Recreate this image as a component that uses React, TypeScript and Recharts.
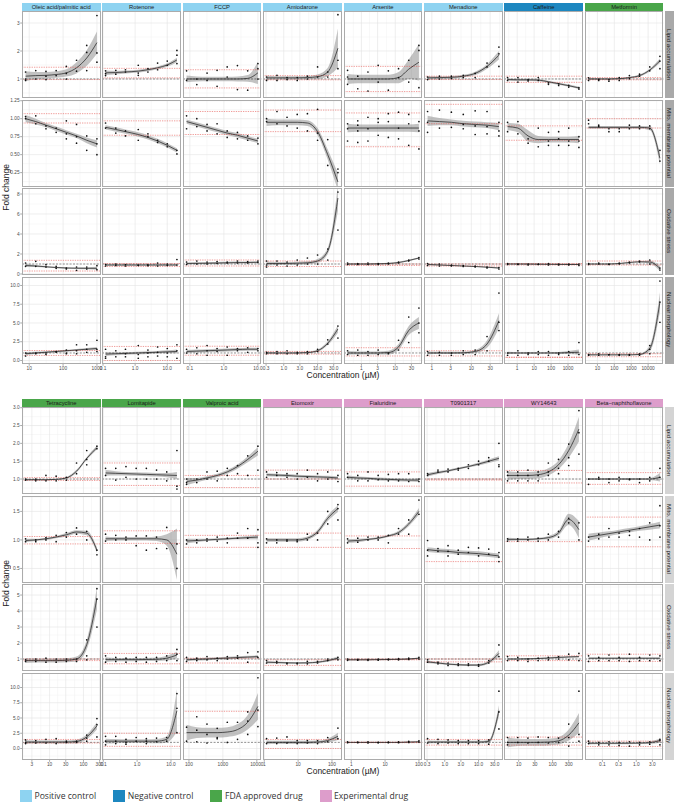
import React from "react";
import {
  ComposedChart,
  Area,
  Line,
  Scatter,
  XAxis,
  YAxis,
  CartesianGrid,
  ReferenceLine,
} from "recharts";

type Panel = { fit: number[]; se: number[]; pts: number[][]; red: number[] };

const readouts = ["Lipid accumulation", "Mito. membrane potential", "Oxidative stress", "Nuclear morphology"];

const topDrugs = ["Oleic acid/palmitic acid", "Rotenone", "FCCP", "Amiodarone", "Arsenite", "Menadione", "Caffeine", "Metformin"];
const topGroups = ["pos", "pos", "pos", "pos", "pos", "pos", "neg", "fda"];
const bottomDrugs = ["Tetracycline", "Lomitapide", "Valproic acid", "Etomoxir", "Fialuridine", "T0901317", "WY14643", "Beta\u2212naphthoflavone"];
const bottomGroups = ["fda", "fda", "fda", "exp", "exp", "exp", "exp", "exp"];

const legendItems = [
  { key: "pos", label: "Positive control" },
  { key: "neg", label: "Negative control" },
  { key: "fda", label: "FDA approved drug" },
  { key: "exp", label: "Experimental drug" },
];

// concentrations (µM) per column
const topConc = [
  [7.8, 15.6, 31.25, 62.5, 125, 250, 500, 1000],
  [0.12, 0.25, 0.5, 1.25, 2.5, 5, 10, 20],
  [0.08, 0.16, 0.32, 0.63, 1.25, 2.5, 5, 10],
  [0.31, 0.63, 1.25, 2.5, 5, 10, 20, 40],
  [0.39, 0.78, 1.56, 3.125, 6.25, 12.5, 25, 50],
  [0.78, 1.56, 3.125, 6.25, 12.5, 25, 50],
  [0.27, 1.1, 4.4, 17.5, 70, 280, 1100, 4400],
  [3, 12, 48, 195, 780, 3100, 12500, 50000],
];
const topXTicks = [[10, 100, 1000], [0.1, 1, 10], [0.1, 1, 10], [0.3, 1, 3, 10, 30], [1, 3, 10, 30], [1, 3, 10, 30], [1, 10, 100, 1000], [10, 100, 1000, 10000]];
const topXLabels = [["10", "100", "1000"], ["0.1", "1.0", "10.0"], ["0.1", "1.0", "10.0"], ["0.3", "1.0", "3.0", "10.0", "30.0"], ["1", "3", "10", "30"], ["1", "3", "10", "30"], ["1", "10", "100", "1000"], ["10", "100", "1000", "10000"]];

const bottomConc = [
  [1.95, 3.9, 7.8, 15.6, 31.25, 62.5, 125, 250],
  [0.117, 0.234, 0.469, 0.938, 1.875, 3.75, 7.5, 15],
  [85, 170, 340, 680, 1350, 2700, 5400, 10800],
  [1.17, 2.34, 4.69, 9.38, 18.75, 37.5, 75, 150],
  [0.78, 1.56, 3.125, 6.25, 12.5, 25, 50, 100],
  [0.31, 0.63, 1.25, 2.5, 5, 10, 20, 40],
  [4.7, 9.4, 18.75, 37.5, 75, 150, 300, 600],
  [0.039, 0.078, 0.156, 0.31, 0.63, 1.25, 2.5, 5],
];
const bottomXTicks = [[3, 10, 30, 100, 300], [0.1, 1, 10], [100, 1000, 10000], [1, 10, 100], [1, 10, 100], [0.3, 1, 3, 10, 30], [10, 30, 100, 300], [0.1, 0.3, 1, 3]];
const bottomXLabels = [["3", "10", "30", "100", "300"], ["0.1", "1.0", "10.0"], ["100", "1000", "10000"], ["1", "10", "100"], ["1", "10", "100"], ["0.3", "1.0", "3.0", "10.0", "30.0"], ["10", "30", "100", "300"], ["0.1", "0.3", "1.0", "3.0"]];

const topYDomain = [[0.32, 3.43], [0.05, 1.26], [-0.1, 8.6], [-0.47, 11.13]];
const topYTicks = [[1, 2, 3], [0.25, 0.5, 0.75, 1, 1.25], [0, 2, 4, 6, 8], [0, 2.5, 5, 7.5, 10]];
const topYLabels = [["1", "2", "3"], ["0.25", "0.50", "0.75", "1.00", "1.25"], ["0", "2", "4", "6", "8"], ["0.0", "2.5", "5.0", "7.5", "10.0"]];
const bottomYDomain = [[0.58, 3.02], [0.245, 1.77], [0.25, 5.69], [-1.89, 12.38]];
const bottomYTicks = [[1, 1.5, 2, 2.5, 3], [0.5, 1, 1.5], [1, 2, 3, 4, 5], [0, 2.5, 5, 7.5, 10]];
const bottomYLabels = [["1.0", "1.5", "2.0", "2.5", "3.0"], ["0.5", "1.0", "1.5"], ["1", "2", "3", "4", "5"], ["0.0", "2.5", "5.0", "7.5", "10.0"]];

// ---- top block ----
const topLipid: Panel[] = [
  { fit: [1.1, 1.12, 1.13, 1.16, 1.22, 1.4, 1.75, 2.3], se: [0.18, 0.13, 0.12, 0.12, 0.13, 0.2, 0.28, 0.4], pts: [[1.25, 1.0, 0.95], [1.3, 1.0], [1.27, 1.1, 0.98], [1.3, 1.12], [1.45, 1.2, 1.0], [1.67, 1.28], [2.2, 1.95, 1.3], [3.27, 1.93, 1.6]], red: [1.42, 0.98] },
  { fit: [1.22, 1.23, 1.25, 1.28, 1.33, 1.4, 1.5, 1.68], se: [0.08, 0.06, 0.05, 0.05, 0.05, 0.05, 0.06, 0.08], pts: [[1.29, 1.19, 1.12], [1.31, 1.17], [1.33, 1.25], [1.49, 1.21, 1.13], [1.37, 1.25], [1.57, 1.33], [1.64, 1.49], [2.02, 1.85, 1.55]], red: [1.38, 1.04] },
  { fit: [1, 1, 1, 1, 1, 1, 1.02, 1.22], se: [0.12, 0.09, 0.08, 0.08, 0.08, 0.09, 0.12, 0.4], pts: [[1.29, 0.95], [1.0, 0.8], [1.21, 0.95], [1.31, 0.74], [1.43, 1.07], [1.48, 0.62], [1.29, 0.6], [1.55, 1.37, 1.0]], red: [1.33, 0.68] },
  { fit: [1.04, 1.04, 1.04, 1.04, 1.05, 1.08, 1.25, 2.1], se: [0.08, 0.06, 0.06, 0.06, 0.06, 0.08, 0.15, 0.7], pts: [[1.07, 0.95], [1.13, 0.95], [1.05, 0.98], [1.05, 0.95], [1.1, 1.0], [1.43, 1.07], [1.25, 1.07], [3.3, 1.67, 1.37]], red: [1.12, 0.97] },
  { fit: [1, 1, 1, 1, 1, 1.05, 1.35, 1.6], se: [0.18, 0.15, 0.15, 0.15, 0.15, 0.2, 0.35, 0.65], pts: [[1.31, 1.07, 0.81], [1.1, 0.65], [1.25, 0.57], [1.49, 0.89], [1.29, 0.6], [1.37, 1.05], [1.67, 0.89], [2.2, 2.02, 0.69]], red: [1.45, 0.55] },
  { fit: [1.04, 1.05, 1.06, 1.1, 1.2, 1.45, 1.85], se: [0.07, 0.05, 0.05, 0.05, 0.06, 0.08, 0.15], pts: [[1.07, 0.98], [1.1, 1.0], [1.1, 1.02], [1.13, 1.05], [1.2, 1.05], [1.57, 1.43], [2.14, 1.9, 1.45]], red: [1.1, 0.98] },
  { fit: [0.98, 0.97, 0.97, 0.96, 0.9, 0.83, 0.76, 0.68], se: [0.04, 0.04, 0.04, 0.04, 0.04, 0.04, 0.04, 0.04], pts: [[1.05, 0.95], [1.05, 0.89], [0.98, 0.93], [1.05, 0.95], [0.86, 0.81], [0.83, 0.77], [0.77, 0.71], [0.69, 0.64]], red: [1.1, 0.88] },
  { fit: [1, 1, 1, 1.01, 1.05, 1.12, 1.32, 1.65], se: [0.04, 0.03, 0.03, 0.03, 0.03, 0.04, 0.05, 0.08], pts: [[1.04, 0.95], [0.99, 0.95], [0.98, 0.92], [1.05, 0.95], [1.12, 1.01], [1.17, 1.1], [1.43, 1.29], [1.81, 1.64, 1.37]], red: [1.05, 0.97] },
];

const topMito: Panel[] = [
  { fit: [1.0, 0.96, 0.91, 0.86, 0.81, 0.76, 0.7, 0.65], se: [0.05, 0.04, 0.03, 0.03, 0.03, 0.03, 0.04, 0.05], pts: [[1.03, 1.0], [1.04, 0.93], [0.9, 0.86], [0.87, 0.81], [0.97, 0.79, 0.72], [0.92, 0.75, 0.66], [0.76, 0.56], [0.72, 0.65, 0.5]], red: [1.07, 0.94] },
  { fit: [0.88, 0.85, 0.82, 0.78, 0.74, 0.69, 0.63, 0.56], se: [0.03, 0.03, 0.03, 0.03, 0.03, 0.03, 0.03, 0.03], pts: [[0.94, 0.87], [0.87, 0.8], [0.83, 0.76], [0.85, 0.7], [0.79, 0.75], [0.7, 0.67], [0.65, 0.61], [0.56, 0.51]], red: [0.97, 0.77] },
  { fit: [0.96, 0.92, 0.88, 0.84, 0.8, 0.77, 0.73, 0.69], se: [0.03, 0.03, 0.03, 0.03, 0.03, 0.03, 0.03, 0.03], pts: [[1.04, 0.86], [1.0, 0.89], [0.92, 0.83], [0.93, 0.79], [0.83, 0.74], [0.81, 0.72], [0.76, 0.7], [0.73, 0.65]], red: [1.1, 0.78] },
  { fit: [0.95, 0.95, 0.95, 0.95, 0.94, 0.82, 0.5, 0.12], se: [0.05, 0.04, 0.04, 0.04, 0.04, 0.05, 0.07, 0.12], pts: [[1.0, 0.96], [1.1, 0.93], [1.02, 0.9], [1.06, 0.87], [1.07, 0.83], [1.13, 0.8, 0.7], [0.71, 0.35], [0.3, 0.25]], red: [1.12, 0.82] },
  { fit: [0.87, 0.87, 0.87, 0.87, 0.87, 0.87, 0.87, 0.87], se: [0.06, 0.05, 0.05, 0.05, 0.05, 0.05, 0.05, 0.06], pts: [[0.93, 0.86, 0.69], [0.97, 0.91, 0.83, 0.67], [1.02, 0.86, 0.69], [1.0, 0.95, 0.77], [1.07, 0.96, 0.74], [1.09, 0.87, 0.72], [1.06, 0.93, 0.63], [0.96, 0.83, 0.58]], red: [1.08, 0.61] },
  { fit: [0.97, 0.96, 0.95, 0.93, 0.92, 0.91, 0.89], se: [0.07, 0.05, 0.04, 0.04, 0.04, 0.04, 0.05], pts: [[1.1, 0.95, 0.81], [1.12, 0.87], [1.09, 0.88], [1.06, 0.92, 0.86], [1.11, 0.9, 0.78], [1.1, 0.89, 0.79], [0.95, 0.83, 0.76]], red: [1.2, 0.93] },
  { fit: [0.89, 0.87, 0.76, 0.71, 0.71, 0.71, 0.71, 0.71], se: [0.05, 0.06, 0.08, 0.05, 0.04, 0.04, 0.04, 0.05], pts: [[0.95, 0.82], [0.96, 0.79], [0.72, 0.66], [0.87, 0.61], [0.81, 0.69, 0.63], [0.82, 0.72, 0.63], [0.87, 0.69, 0.63], [0.75, 0.69, 0.6]], red: [0.9, 0.7] },
  { fit: [0.88, 0.88, 0.88, 0.88, 0.88, 0.88, 0.87, 0.45], se: [0.02, 0.02, 0.02, 0.02, 0.02, 0.02, 0.03, 0.08], pts: [[0.98, 0.93], [0.91, 0.89], [0.86, 0.82], [0.86, 0.82], [0.91, 0.86], [0.9, 0.86], [0.9, 0.86], [0.56, 0.41]], red: [1.0, 0.87] },
];

const topOx: Panel[] = [
  { fit: [0.85, 0.8, 0.72, 0.65, 0.6, 0.58, 0.57, 0.57], se: [0.15, 0.1, 0.08, 0.08, 0.08, 0.08, 0.1, 0.15], pts: [[1.1, 0.77], [1.27, 0.77], [0.93, 0.7], [0.77, 0.57], [0.6, 0.5], [0.7, 0.37], [0.7, 0.5], [0.83, 0.43]], red: [1.37, 0.3] },
  { fit: [0.9, 0.9, 0.9, 0.9, 0.9, 0.9, 0.9, 0.9], se: [0.08, 0.08, 0.08, 0.08, 0.08, 0.08, 0.08, 0.08], pts: [[0.95, 0.8], [1.0, 0.85], [0.95, 0.8], [0.9, 0.85], [0.92, 0.83], [1.1, 0.8], [1.0, 0.85], [1.45, 0.9]], red: [1.05, 0.75] },
  { fit: [1.05, 1.07, 1.08, 1.1, 1.12, 1.14, 1.15, 1.17], se: [0.1, 0.1, 0.1, 0.1, 0.1, 0.1, 0.1, 0.1], pts: [[1.2, 0.95], [1.3, 1.0], [1.2, 1.0], [1.25, 1.05], [1.2, 1.1], [1.3, 1.1], [1.25, 1.1], [1.3, 1.15]], red: [1.4, 0.8] },
  { fit: [1.05, 1.05, 1.05, 1.08, 1.12, 1.3, 2.3, 7.6], se: [0.2, 0.15, 0.15, 0.15, 0.15, 0.2, 0.3, 1.3], pts: [[1.3, 0.9, 0.7], [1.3, 0.9], [1.2, 0.8], [1.4, 0.9], [1.6, 1.0], [1.9, 1.0], [2.5, 1.4], [8.2, 4.4]], red: [1.3, 0.75] },
  { fit: [1, 1, 1, 1.02, 1.05, 1.15, 1.35, 1.6], se: [0.08, 0.08, 0.08, 0.08, 0.08, 0.08, 0.08, 0.08], pts: [[1.1, 0.95], [1.05, 0.95], [1.1, 0.95], [1.05, 0.95], [1.1, 1.0], [1.2, 1.1], [1.4, 1.3], [1.65, 1.5]], red: [1.0, 0.85] },
  { fit: [0.95, 0.9, 0.85, 0.8, 0.75, 0.68, 0.6], se: [0.08, 0.06, 0.05, 0.05, 0.05, 0.06, 0.08], pts: [[1.05, 0.85], [1.0, 0.8], [0.9, 0.8], [0.85, 0.75], [0.8, 0.7], [0.7, 0.6], [0.65, 0.5]], red: [1.0, 0.8] },
  { fit: [1.0, 1.0, 0.99, 0.98, 0.97, 0.96, 0.95, 0.95], se: [0.05, 0.05, 0.05, 0.05, 0.05, 0.05, 0.05, 0.05], pts: [[1.05, 0.95], [1.0, 0.95], [1.0, 0.9], [1.0, 0.95], [1.05, 0.9], [1.0, 0.9], [1.0, 0.9], [1.0, 0.85]], red: [1.05, 0.9] },
  { fit: [1.0, 1.0, 1.0, 1.05, 1.15, 1.22, 1.2, 0.55], se: [0.05, 0.04, 0.04, 0.04, 0.05, 0.06, 0.15, 0.25], pts: [[1.05, 0.95], [1.1, 1.0], [1.0, 0.95], [1.1, 1.0], [1.2, 1.1], [1.3, 1.2], [1.4, 1.0], [0.6, 0.4]], red: [1.3, 0.9] },
];

const topNuc: Panel[] = [
  { fit: [0.9, 1.0, 1.1, 1.2, 1.3, 1.4, 1.5, 1.6], se: [0.2, 0.15, 0.12, 0.12, 0.12, 0.12, 0.15, 0.2], pts: [[1.0, 0.6], [1.0, 0.9], [1.0, 0.8], [1.2, 1.1], [1.4, 1.0, 0.9], [2.1, 1.3, 0.9], [2.1, 1.5, 1.1], [2.7, 1.5, 1.2]], red: [1.33, 0.67] },
  { fit: [0.85, 0.9, 0.95, 1.0, 1.05, 1.1, 1.15, 1.2], se: [0.25, 0.2, 0.18, 0.17, 0.17, 0.18, 0.2, 0.25], pts: [[1.5, 0.5, 0.3], [1.3, 0.5], [1.5, 0.9, 0.5], [2.0, 0.8, 0.3], [1.4, 1.0, 0.5], [1.8, 1.1, 0.6], [1.6, 1.0, 0.5], [2.1, 1.3, 0.3]], red: [1.87, 0.0] },
  { fit: [1.2, 1.25, 1.3, 1.35, 1.4, 1.45, 1.5, 1.5], se: [0.2, 0.2, 0.2, 0.2, 0.2, 0.2, 0.2, 0.2], pts: [[1.5, 1.0], [1.7, 0.9], [2.0, 1.3, 0.7], [1.6, 1.2], [1.8, 0.7], [1.6, 1.3], [1.7, 1.1], [1.6, 1.3]], red: [1.9, 0.7] },
  { fit: [1, 1, 1, 1, 1.05, 1.3, 2.3, 4.2], se: [0.15, 0.1, 0.1, 0.1, 0.1, 0.15, 0.25, 0.5], pts: [[1.1, 0.9], [1.2, 0.9], [1.3, 0.9], [1.1, 0.9], [1.2, 0.9], [1.5, 1.2], [2.75, 2.2], [4.6, 3.0]], red: [1.2, 0.85] },
  { fit: [1, 1, 1, 1, 1.05, 1.8, 4.0, 5.0], se: [0.25, 0.2, 0.2, 0.2, 0.25, 0.4, 0.6, 0.8], pts: [[1.3, 0.8], [1.4, 0.7], [1.2, 0.7], [1.4, 0.8], [1.0, 0.9], [2.7, 1.4], [5.8, 2.4], [7.0, 5.0, 3.7]], red: [1.7, 0.6] },
  { fit: [1, 1, 1, 1.02, 1.2, 2.2, 5.3], se: [0.2, 0.15, 0.15, 0.15, 0.2, 0.5, 1.0], pts: [[1.2, 0.7], [1.1, 0.7], [1.0, 0.7], [1.3, 0.8], [1.4, 0.8], [3.2, 1.3], [9.0, 5.1, 4.0]], red: [1.3, 0.6] },
  { fit: [1, 1, 1, 1, 1, 1, 1.05, 1.1], se: [0.15, 0.1, 0.1, 0.1, 0.1, 0.12, 0.2, 0.35], pts: [[1.0, 0.7], [1.3, 0.7], [1.0, 0.8], [1.2, 0.8], [1.2, 0.7], [1.0, 0.8], [1.2, 0.7], [2.4, 0.8]], red: [0.45, 0.4] },
  { fit: [0.75, 0.75, 0.75, 0.75, 0.75, 0.8, 1.6, 7.8], se: [0.1, 0.08, 0.08, 0.08, 0.08, 0.1, 0.4, 1.3], pts: [[0.8, 0.7], [0.9, 0.7], [0.8, 0.75], [0.8, 0.7], [0.8, 0.7], [0.9, 0.7], [2.0, 1.5, 0.9], [10.6, 7.8, 5.1]], red: [0.9, 0.5] },
];

// ---- bottom block ----
const botLipid: Panel[] = [
  { fit: [0.98, 0.98, 0.98, 0.99, 1.03, 1.22, 1.58, 1.88], se: [0.03, 0.02, 0.02, 0.02, 0.03, 0.04, 0.04, 0.05], pts: [[1.0, 0.97], [1.0, 0.95], [1.1, 0.95], [1.08, 0.95], [1.05, 0.97], [1.45, 1.15], [1.8, 1.55, 1.4], [1.92, 1.85]], red: [1.04, 0.96] },
  { fit: [1.17, 1.16, 1.15, 1.14, 1.13, 1.12, 1.11, 1.1], se: [0.08, 0.06, 0.05, 0.05, 0.05, 0.05, 0.06, 0.1], pts: [[1.3, 1.1], [1.3, 0.97], [1.35, 1.05], [1.3, 1.0], [1.3, 1.0], [1.25, 1.0], [1.2, 0.95], [1.8, 0.8, 0.72]], red: [1.45, 0.82] },
  { fit: [0.93, 0.97, 1.03, 1.1, 1.2, 1.35, 1.55, 1.78], se: [0.1, 0.06, 0.05, 0.05, 0.05, 0.06, 0.08, 0.12], pts: [[1.0, 0.9, 0.85], [1.0, 0.9], [1.2, 1.0], [1.22, 0.95], [1.3, 1.1], [1.38, 1.15], [1.65, 1.1], [1.92, 1.25]], red: [1.1, 0.76] },
  { fit: [1.12, 1.11, 1.1, 1.08, 1.07, 1.06, 1.05, 1.03], se: [0.04, 0.04, 0.04, 0.04, 0.04, 0.04, 0.04, 0.04], pts: [[1.2, 1.05], [1.18, 1.1], [1.15, 1.05], [1.15, 1.0], [1.25, 1.05], [1.15, 0.95], [1.2, 1.0], [1.1, 0.93]], red: [1.25, 1.0] },
  { fit: [1.05, 1.03, 1.02, 1.0, 0.99, 0.98, 0.97, 0.97], se: [0.05, 0.04, 0.04, 0.04, 0.04, 0.04, 0.04, 0.05], pts: [[1.15, 1.05], [1.1, 0.95], [1.2, 0.95], [1.1, 0.98], [1.13, 0.95], [1.15, 0.95], [1.15, 0.93], [1.0, 0.93]], red: [1.2, 0.8] },
  { fit: [1.12, 1.18, 1.23, 1.29, 1.35, 1.42, 1.5, 1.58], se: [0.05, 0.04, 0.03, 0.03, 0.03, 0.04, 0.05, 0.06], pts: [[1.15, 1.1], [1.25, 1.2], [1.28, 1.2], [1.3, 1.25], [1.4, 1.3], [1.5, 1.4], [1.6, 1.5], [2.0, 1.4, 1.35]], red: [1.0, 0.97] },
  { fit: [1.1, 1.1, 1.1, 1.12, 1.2, 1.4, 1.8, 2.4], se: [0.12, 0.1, 0.1, 0.1, 0.1, 0.12, 0.2, 0.35], pts: [[1.2, 1.1, 0.95], [1.2, 1.1, 0.95], [1.25, 1.1, 0.95], [1.2, 1.1, 0.95], [1.45, 1.2, 1.1], [1.55, 1.3, 1.15], [1.98, 1.6, 1.38], [2.92, 2.3, 1.7]], red: [1.24, 0.89] },
  { fit: [1, 1, 1, 1, 1, 1, 1, 1.05], se: [0.02, 0.02, 0.02, 0.02, 0.02, 0.02, 0.03, 0.12], pts: [[1.0, 0.85], [1.05, 1.0], [1.0, 0.9], [1.05, 0.95], [1.0, 0.98], [1.0, 0.9], [1.05, 0.95], [1.3, 1.05]], red: [1.18, 0.85] },
];

const botMito: Panel[] = [
  { fit: [0.99, 1.0, 1.02, 1.05, 1.09, 1.14, 1.12, 0.82], se: [0.03, 0.02, 0.02, 0.02, 0.03, 0.03, 0.04, 0.05], pts: [[1.02, 0.97], [1.0, 0.97], [1.04, 1.0], [1.08, 0.97], [1.13, 1.05], [1.21, 1.1], [1.15, 1.0], [0.82, 0.74]], red: [1.06, 0.93] },
  { fit: [1.02, 1.02, 1.02, 1.02, 1.02, 1.02, 1.0, 0.75], se: [0.04, 0.03, 0.03, 0.03, 0.03, 0.04, 0.1, 0.45], pts: [[1.1, 0.98], [1.08, 1.0], [1.05, 1.0], [1.07, 0.9], [1.07, 0.82], [1.05, 0.85], [1.22, 0.85], [0.93, 0.5]], red: [1.16, 0.94] },
  { fit: [0.98, 0.99, 1.0, 1.01, 1.02, 1.03, 1.04, 1.05], se: [0.04, 0.03, 0.02, 0.02, 0.02, 0.02, 0.03, 0.04], pts: [[1.0, 0.93], [1.0, 0.95], [1.02, 0.98], [1.05, 0.98], [1.03, 0.95], [1.12, 1.03], [1.2, 1.03], [1.18, 0.95, 0.87]], red: [1.08, 0.87] },
  { fit: [1, 1, 1, 1, 1.03, 1.14, 1.38, 1.55], se: [0.03, 0.03, 0.03, 0.03, 0.03, 0.04, 0.05, 0.06], pts: [[1.02, 0.95], [1.0, 0.95], [1.0, 0.98], [1.0, 0.97], [1.1, 1.0], [1.12, 1.0], [1.5, 1.28], [1.62, 1.55, 1.35]], red: [1.12, 0.87] },
  { fit: [0.98, 0.99, 1.01, 1.03, 1.07, 1.13, 1.28, 1.5], se: [0.03, 0.03, 0.02, 0.02, 0.02, 0.03, 0.04, 0.06], pts: [[1.02, 0.95], [1.03, 0.96], [1.05, 1.0], [1.05, 1.0], [1.08, 0.95], [1.2, 1.1], [1.35, 1.1], [1.7, 1.45]], red: [1.07, 0.85] },
  { fit: [0.83, 0.81, 0.8, 0.78, 0.77, 0.76, 0.74, 0.72], se: [0.04, 0.04, 0.04, 0.04, 0.04, 0.04, 0.04, 0.04], pts: [[0.99, 0.82, 0.72], [0.85, 0.8], [0.9, 0.8, 0.72], [0.82, 0.75], [0.87, 0.78], [0.86, 0.72], [0.84, 0.75], [0.78, 0.7, 0.62]], red: [0.62] },
  { fit: [1.01, 1.01, 1.01, 1.02, 1.04, 1.12, 1.36, 1.18], se: [0.03, 0.02, 0.02, 0.02, 0.03, 0.04, 0.1, 0.15], pts: [[1.02, 0.98], [1.02, 0.98], [1.05, 1.0], [1.03, 0.98], [1.1, 1.0], [1.15, 1.05], [1.38, 1.3], [1.3, 1.0]], red: [0.97] },
  { fit: [1.05, 1.08, 1.11, 1.14, 1.17, 1.2, 1.23, 1.26], se: [0.06, 0.05, 0.04, 0.04, 0.04, 0.04, 0.05, 0.06], pts: [[1.05, 0.98], [1.1, 1.02], [1.2, 1.05], [1.12, 1.05], [1.15, 1.08], [1.2, 1.05], [1.3, 1.0], [1.6, 1.25, 1.05]], red: [1.4, 0.88] },
];

const botOx: Panel[] = [
  { fit: [0.9, 0.9, 0.9, 0.9, 0.92, 1.0, 1.9, 4.8], se: [0.15, 0.12, 0.12, 0.12, 0.12, 0.15, 0.3, 0.7], pts: [[0.95, 0.85], [1.0, 0.85], [1.05, 0.8], [1.0, 0.8], [1.0, 0.85], [1.0, 0.85], [2.2, 1.2, 0.95], [5.4, 4.75, 3.0]], red: [1.0, 0.9] },
  { fit: [0.96, 0.96, 0.96, 0.96, 0.97, 0.98, 1.05, 1.25], se: [0.15, 0.1, 0.1, 0.1, 0.1, 0.1, 0.15, 0.2], pts: [[1.2, 0.8], [1.1, 0.85], [1.05, 0.8], [1.1, 0.85], [1.1, 0.8], [1.1, 0.85], [1.2, 0.9], [1.6, 1.3, 0.9]], red: [1.35, 0.7] },
  { fit: [0.95, 0.98, 1.0, 1.03, 1.06, 1.09, 1.12, 1.15], se: [0.08, 0.08, 0.08, 0.08, 0.08, 0.08, 0.08, 0.08], pts: [[1.1, 0.85], [1.05, 0.9], [1.15, 0.95], [1.05, 0.9], [1.15, 1.0], [1.2, 1.05], [1.4, 0.8], [1.45, 1.1]], red: [1.05, 0.75] },
  { fit: [0.8, 0.78, 0.76, 0.75, 0.76, 0.8, 0.9, 1.05], se: [0.08, 0.06, 0.05, 0.05, 0.05, 0.06, 0.07, 0.1], pts: [[0.9, 0.75], [0.85, 0.75], [0.75, 0.7], [0.75, 0.7], [0.85, 0.7], [0.85, 0.75], [1.0, 0.9], [1.1, 0.95]], red: [0.95, 0.6] },
  { fit: [0.95, 0.95, 0.95, 0.96, 0.97, 0.98, 1.0, 1.05], se: [0.04, 0.04, 0.04, 0.04, 0.04, 0.04, 0.04, 0.04], pts: [[1.0, 0.92], [0.98, 0.93], [0.98, 0.92], [1.0, 0.93], [1.0, 0.95], [1.02, 0.95], [1.05, 0.97], [1.1, 1.0]], red: [1.0, 0.95] },
  { fit: [0.82, 0.75, 0.68, 0.64, 0.62, 0.62, 0.8, 1.35], se: [0.08, 0.06, 0.06, 0.06, 0.06, 0.07, 0.1, 0.2], pts: [[0.95, 0.8], [0.8, 0.7], [0.75, 0.6], [0.7, 0.6], [0.7, 0.6], [0.65, 0.55], [0.9, 0.75], [1.88, 1.15]], red: [1.0, 0.82] },
  { fit: [1.0, 1.0, 1.01, 1.03, 1.06, 1.1, 1.13, 1.15], se: [0.05, 0.05, 0.05, 0.05, 0.05, 0.05, 0.05, 0.05], pts: [[1.15, 0.9], [1.1, 0.9], [1.0, 0.85], [1.05, 0.9], [1.1, 0.95], [1.15, 1.0], [1.3, 0.95], [1.35, 0.9]], red: [1.2, 0.9] },
  { fit: [1.05, 1.05, 1.05, 1.05, 1.05, 1.05, 1.05, 1.05], se: [0.05, 0.05, 0.05, 0.05, 0.05, 0.05, 0.05, 0.05], pts: [[1.2, 0.85], [1.1, 0.9], [1.25, 0.9], [1.1, 0.9], [1.3, 0.85], [1.1, 0.9], [1.25, 0.9], [1.2, 0.9]], red: [1.3, 0.85] },
];

const botNuc: Panel[] = [
  { fit: [1.05, 1.05, 1.05, 1.05, 1.06, 1.15, 1.9, 3.7], se: [0.3, 0.25, 0.25, 0.25, 0.25, 0.3, 0.4, 0.6], pts: [[1.4, 1.0, 0.8], [1.3, 0.9], [1.5, 0.9], [1.6, 0.8], [1.2, 1.0], [1.2, 1.0], [2.2, 1.7, 1.2], [4.9, 3.9, 1.9]], red: [1.48, 0.9] },
  { fit: [1.2, 1.2, 1.2, 1.2, 1.2, 1.2, 1.5, 6.2], se: [0.4, 0.35, 0.3, 0.3, 0.3, 0.35, 0.5, 3.5], pts: [[2.0, 1.2, 0.6], [2.0, 1.2, 0.8], [1.5, 1.0, 0.7], [1.8, 1.2], [1.6, 1.2, 0.8], [1.7, 1.1], [1.8, 1.2], [9.0, 6.6, 2.6]], red: [2.5, 0.35] },
  { fit: [2.6, 2.6, 2.6, 2.6, 2.7, 3.1, 4.3, 6.9], se: [1.3, 0.9, 0.8, 0.8, 0.8, 0.9, 1.2, 2.2], pts: [[3.5, 1.2], [5.2, 3.0, 1.1], [4.0, 2.3, 0.9], [3.3, 1.8, 1.6], [4.3, 1.0], [4.3, 1.5], [6.0, 4.5, 2.3], [11.6, 6.3, 3.6]], red: [6.1] },
  { fit: [1, 1, 1, 1, 1, 1.05, 1.3, 2.0], se: [0.3, 0.25, 0.25, 0.25, 0.25, 0.25, 0.35, 0.6], pts: [[1.6, 0.8], [1.7, 0.8], [1.9, 0.9], [1.3, 0.8], [1.3, 0.9], [1.3, 0.8], [1.8, 1.1], [3.35, 1.6]], red: [1.48, 0.0] },
  { fit: [1, 1, 1, 1, 1, 1, 1.05, 1.1], se: [0.08, 0.08, 0.08, 0.08, 0.08, 0.08, 0.08, 0.08], pts: [[1.1, 0.95], [1.05, 0.95], [1.1, 0.9], [1.0, 0.95], [1.05, 0.95], [1.1, 0.95], [1.15, 1.0], [1.25, 1.05]], red: [1.05, 0.95] },
  { fit: [1.05, 1.05, 1.05, 1.05, 1.05, 1.05, 1.15, 6.2], se: [0.25, 0.2, 0.2, 0.2, 0.2, 0.2, 0.3, 0.9], pts: [[1.6, 0.9], [1.5, 0.8], [1.4, 0.9], [1.3, 0.8], [1.3, 0.8], [1.3, 0.8], [1.4, 0.7], [9.4, 6.0, 3.2]], red: [1.48, 0.55] },
  { fit: [1, 1, 1, 1, 1.05, 1.25, 2.2, 4.2], se: [0.8, 0.6, 0.55, 0.55, 0.55, 0.6, 0.9, 1.6], pts: [[1.8, 1.0, 0.6], [1.8, 1.0], [1.7, 0.9], [1.9, 1.0], [1.8, 0.9], [1.7, 1.0], [4.0, 1.8, 0.4], [9.4, 2.3, 1.2]], red: [1.87, 0.55] },
  { fit: [0.85, 0.85, 0.85, 0.85, 0.86, 0.88, 0.95, 1.3], se: [0.2, 0.15, 0.15, 0.15, 0.15, 0.15, 0.2, 0.35], pts: [[1.2, 0.8], [1.0, 0.6], [1.1, 0.6], [1.0, 0.5], [1.1, 0.4], [1.0, 0.6], [1.1, 0.7], [1.5, 1.3, 0.6]], red: [1.2, 0.33] },
];

const groupColor: Record<string, string> = { pos: "#8ed3f1", neg: "#1d87c0", fda: "#4aa64a", exp: "#dd9dcb" };

const PW = 78.5;
const PH = 87;
const COL_PITCH = 80.4;
const ROW_PITCH = 88.5;
const LEFT0 = 22;
const STRIP_H = 8.5;
const SANS = "'Liberation Sans', Arial, sans-serif";

const blocks = [
  { top: 11, drugs: topDrugs, groups: topGroups, conc: topConc, xt: topXTicks, xl: topXLabels, yd: topYDomain, yt: topYTicks, yl: topYLabels, rows: [topLipid, topMito, topOx, topNuc], stripBg: "#a9a9a9" },
  { top: 407, drugs: bottomDrugs, groups: bottomGroups, conc: bottomConc, xt: bottomXTicks, xl: bottomXLabels, yd: bottomYDomain, yt: bottomYTicks, yl: bottomYLabels, rows: [botLipid, botMito, botOx, botNuc], stripBg: "#d4d4d4" },
];

const dashRows = [true, false, true, true];

function minorLog(ticks: number[], dom: number[]) {
  const l = ticks.map((t) => Math.log10(t));
  const out: number[] = [];
  const step = l.length > 1 ? l[1] - l[0] : 1;
  out.push(10 ** (l[0] - step / 2));
  for (let i = 0; i < l.length - 1; i++) out.push(10 ** ((l[i] + l[i + 1]) / 2));
  const stepE = l.length > 1 ? l[l.length - 1] - l[l.length - 2] : 1;
  out.push(10 ** (l[l.length - 1] + stepE / 2));
  return out.filter((v) => v > dom[0] && v < dom[1]);
}

function minorLin(ticks: number[], dom: number[]) {
  const step = ticks[1] - ticks[0];
  const out: number[] = [ticks[0] - step / 2];
  for (let i = 0; i < ticks.length; i++) out.push(ticks[i] + step / 2);
  return out.filter((v) => v > dom[0] && v < dom[1]);
}

function Facet(props: {
  conc: number[];
  p: Panel;
  yd: number[];
  yt: number[];
  yl: string[];
  xt: number[];
  xl: string[];
  showX: boolean;
  showY: boolean;
  dash: boolean;
  x: number;
  y: number;
}) {
  const { conc, p, yd, yt, yl, xt, xl, showX, showY, dash, x, y } = props;
  const yw = showY ? 20 : 0;
  const xh = showX ? 9 : 0;
  const lc = Math.log10(conc[0]);
  const hc = Math.log10(conc[conc.length - 1]);
  const pad = (hc - lc) * 0.05;
  const xdom = [10 ** (lc - pad), 10 ** (hc + pad)];
  const rows = conc.map((c, i) => ({ x: c, fit: p.fit[i], band: [p.fit[i] - p.se[i], p.fit[i] + p.se[i]] }));
  const pts = p.pts.flatMap((vals, i) => vals.map((v) => ({ x: conc[i], y: v })));
  const tickStyle = { fontSize: 4.8, fill: "#4d4d4d", fontFamily: SANS };
  return (
    <>
      <div style={{ position: "absolute", left: x - yw, top: y }}>
        <ComposedChart width={PW + yw} height={PH + xh} data={rows} margin={{ top: 0, right: 0, bottom: 0, left: 0 }}>
          <CartesianGrid horizontalValues={minorLin(yt, yd)} verticalValues={minorLog(xt, xdom)} stroke="#f1f1f1" strokeWidth={0.5} />
          <CartesianGrid horizontalValues={yt} verticalValues={xt} stroke="#e2e2e2" strokeWidth={0.6} />
          <XAxis
            dataKey="x"
            type="number"
            scale="log"
            domain={xdom}
            allowDataOverflow
            ticks={xt}
            interval={0}
            hide={!showX}
            height={xh}
            tickSize={1.8}
            tickMargin={0.5}
            axisLine={false}
            tickLine={{ stroke: "#555", strokeWidth: 0.5 }}
            tick={tickStyle}
            tickFormatter={(v: number) => xl[xt.indexOf(v)] ?? String(v)}
          />
          <YAxis
            type="number"
            domain={yd}
            allowDataOverflow
            ticks={yt}
            interval={0}
            hide={!showY}
            width={yw}
            tickSize={1.8}
            tickMargin={0.6}
            axisLine={false}
            tickLine={{ stroke: "#555", strokeWidth: 0.5 }}
            tick={tickStyle}
            tickFormatter={(v: number) => yl[yt.indexOf(v)] ?? String(v)}
          />
          <Area dataKey="band" type="monotone" stroke="none" fill="#8f8f8f" fillOpacity={0.55} isAnimationActive={false} />
          {dash && <ReferenceLine y={1} stroke="#333" strokeWidth={0.55} strokeDasharray="2 1.4" />}
          {p.red.map((r, i) => (
            <ReferenceLine key={i} y={r} stroke="#e65a55" strokeWidth={0.6} strokeDasharray="1.3 1.1" />
          ))}
          <Line dataKey="fit" type="monotone" stroke="#1a1a1a" strokeWidth={0.7} dot={false} isAnimationActive={false} />
          <Scatter
            data={pts}
            dataKey="y"
            isAnimationActive={false}
            shape={(s: any) => <circle cx={s.cx} cy={s.cy} r={0.85} fill="#111" />}
          />
        </ComposedChart>
      </div>
      <div
        style={{
          position: "absolute",
          left: x,
          top: y,
          width: PW,
          height: PH,
          border: "1px solid #ababab",
          boxSizing: "border-box",
          pointerEvents: "none",
        }}
      />
    </>
  );
}

export default function App() {
  return (
    <div style={{ position: "absolute", left: 0, top: 0, width: 676, height: 804, background: "#fff", overflow: "hidden" }}>
      <style>{`.recharts-surface{overflow:visible}`}</style>
      {blocks.map((b, bi) => (
        <React.Fragment key={bi}>
          {b.drugs.map((d, c) => (
            <div
              key={"s" + c}
              style={{
                position: "absolute",
                left: LEFT0 + c * COL_PITCH,
                top: b.top - STRIP_H,
                width: PW,
                height: STRIP_H,
                background: groupColor[b.groups[c]],
                fontFamily: SANS,
                fontSize: 5.8,
                lineHeight: STRIP_H + "px",
                textAlign: "center",
                color: "#1a1a1a",
                whiteSpace: "nowrap",
              }}
            >
              {d}
            </div>
          ))}
          {readouts.map((r, ri) => (
            <div
              key={"r" + ri}
              style={{
                position: "absolute",
                left: 665,
                top: b.top + ri * ROW_PITCH,
                width: 8.5,
                height: PH,
                background: b.stripBg,
                display: "flex",
                alignItems: "center",
                justifyContent: "center",
              }}
            >
              <span style={{ writingMode: "vertical-rl", fontFamily: SANS, fontSize: 6.2, color: "#1a1a1a", whiteSpace: "nowrap" }}>{r}</span>
            </div>
          ))}
          {b.rows.map((row, ri) =>
            row.map((p, c) => (
              <Facet
                key={ri + "-" + c}
                conc={b.conc[c]}
                p={p}
                yd={b.yd[ri]}
                yt={b.yt[ri]}
                yl={b.yl[ri]}
                xt={b.xt[c]}
                xl={b.xl[c]}
                showX={ri === 3}
                showY={c === 0}
                dash={dashRows[ri]}
                x={LEFT0 + c * COL_PITCH}
                y={b.top + ri * ROW_PITCH}
              />
            ))
          )}
          <div
            style={{
              position: "absolute",
              left: LEFT0,
              width: 642,
              top: b.top + 3 * ROW_PITCH + PH + 6,
              textAlign: "center",
              fontFamily: SANS,
              fontSize: 8.5,
              color: "#1a1a1a",
            }}
          >
            Concentration (µM)
          </div>
          <div
            style={{
              position: "absolute",
              left: 1,
              top: b.top,
              width: 10,
              height: 3 * ROW_PITCH + PH,
              display: "flex",
              alignItems: "center",
              justifyContent: "center",
            }}
          >
            <span style={{ writingMode: "vertical-rl", transform: "rotate(180deg)", fontFamily: SANS, fontSize: 8.5, color: "#1a1a1a", whiteSpace: "nowrap" }}>
              Fold change
            </span>
          </div>
        </React.Fragment>
      ))}
      <div style={{ position: "absolute", left: 20, top: 790, display: "flex", alignItems: "center", gap: 17 }}>
        {legendItems.map((it) => (
          <div key={it.key} style={{ display: "flex", alignItems: "center" }}>
            <div style={{ width: 12, height: 12, background: groupColor[it.key] }} />
            <span style={{ marginLeft: 2.5, fontFamily: "'Open Sans', 'Noto Sans', sans-serif", fontSize: 8.6, color: "#333" }}>{it.label}</span>
          </div>
        ))}
      </div>
    </div>
  );
}
